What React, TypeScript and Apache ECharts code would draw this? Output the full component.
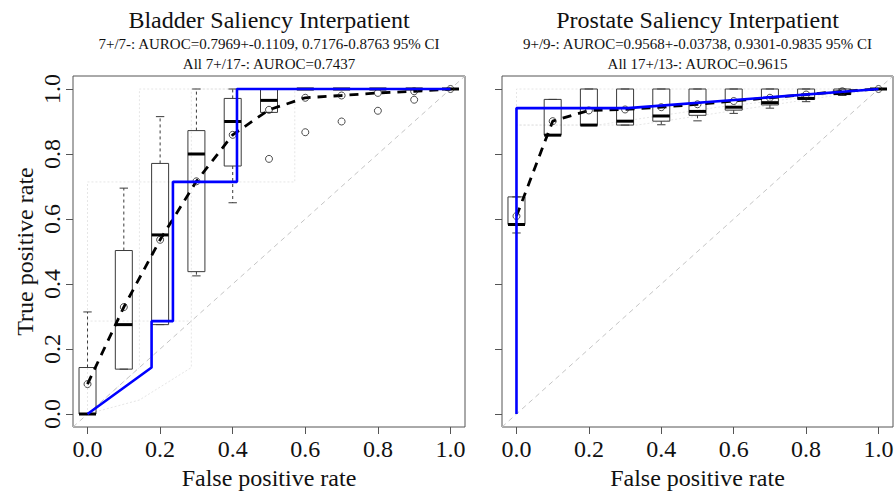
import React, { useEffect, useRef } from "react";
import * as echarts from "echarts";

// ---------- data ----------
const fprGrid = [0, 0.1, 0.2, 0.3, 0.4, 0.5, 0.6, 0.7, 0.8, 0.9, 1.0];
const tickValues = [0, 0.2, 0.4, 0.6, 0.8, 1.0];

// Bladder boxplots (per FPR)
const bladderMin = [0, 0.138, 0.275, 0.425, 0.65, 0.928, 1, 1, 1, 1, 1];
const bladderQ1 = [0, 0.138, 0.275, 0.438, 0.763, 0.928, 1, 1, 1, 1, 1];
const bladderMedian = [0, 0.275, 0.551, 0.8, 0.9, 0.965, 1, 1, 1, 1, 1];
const bladderQ3 = [0.143, 0.503, 0.771, 0.872, 0.971, 1, 1, 1, 1, 1, 1];
const bladderMax = [0.314, 0.695, 0.915, 1, 1, 1, 1, 1, 1, 1, 1];
const bladderMean = [0.092, 0.329, 0.536, 0.716, 0.859, 0.936, 0.973, 0.98, 0.988, 0.993, 1];
const bladderOutliers = [[0.5, 0.785], [0.6, 0.867], [0.7, 0.9], [0.8, 0.933], [0.9, 0.967]];
const bladderPooledRoc = [
  [0, 0], [0.1765, 0.1429], [0.1765, 0.2857], [0.2353, 0.2857],
  [0.2353, 0.7143], [0.4118, 0.7143], [0.4118, 1], [1, 1],
];
const bladderPatientRocs = [
  [[0, 0], [0, 0.714], [0.571, 0.714], [0.571, 1], [1, 1]],
  [[0, 0], [0.143, 0.143], [0.143, 1], [1, 1]],
  [[0, 0], [0, 0.286], [0.286, 0.286], [0.286, 1], [1, 1]],
  [[0, 0], [0.143, 0.043], [0.286, 0.143], [0.286, 0.286]],
];

// Prostate boxplots (per FPR)
const prostateMin = [0.557, 0.858, 0.888, 0.889, 0.89, 0.902, 0.925, 0.941, 0.961, 0.98, 1];
const prostateQ1 = [0.583, 0.858, 0.888, 0.889, 0.901, 0.919, 0.935, 0.951, 0.968, 0.983, 1];
const prostateMedian = [0.583, 0.858, 0.889, 0.901, 0.917, 0.931, 0.944, 0.958, 0.971, 0.986, 1];
const prostateQ3 = [0.668, 0.968, 1, 1, 1, 1, 1, 1, 1, 1, 1];
const prostateMax = [0.668, 0.968, 1, 1, 1, 1, 1, 1, 1, 1, 1];
const prostateMean = [0.609, 0.901, 0.934, 0.937, 0.944, 0.953, 0.963, 0.973, 0.983, 0.993, 1];
const prostateOutliers: number[][] = [];
const prostatePooledRoc = [[0, 0], [0, 0.9412], [0.3077, 0.9412], [1, 1]];
const prostatePatientRocs = [
  [[0, 0], [0, 1], [1, 1]],
  [[0, 0], [0, 0.889], [0.333, 0.889], [1, 1]],
  [[0, 0], [0, 0.889], [0.222, 0.889], [0.556, 0.944], [1, 1]],
];

const diagonal = [[-0.04, -0.04], [1.04, 1.04]];

const titles = ["Bladder Saliency Interpatient", "Prostate Saliency Interpatient"];
const subtitles1 = [
  "7+/7-: AUROC=0.7969+-0.1109, 0.7176-0.8763 95% CI",
  "9+/9-: AUROC=0.9568+-0.03738, 0.9301-0.9835 95% CI",
];
const subtitles2 = ["All 7+/17-: AUROC=0.7437", "All 17+/13-: AUROC=0.9615"];
const xTitle = "False positive rate";
const yTitle = "True positive rate";

// ---------- helpers ----------
const FONT = "'Liberation Serif', 'DejaVu Serif', serif";
const GRIDS = [
  { left: 73, top: 76, width: 392, height: 351 },
  { left: 502, top: 76, width: 391, height: 351 },
];

function boxRows(mn: number[], q1: number[], md: number[], q3: number[], mx: number[]) {
  return fprGrid.map((x, i) => [x, mn[i], q1[i], md[i], q3[i], mx[i]]);
}

const renderBox = (params: any, api: any) => {
  const x = api.value(0);
  const pMin = api.coord([x, api.value(1)]);
  const pQ1 = api.coord([x, api.value(2)]);
  const pMed = api.coord([x, api.value(3)]);
  const pQ3 = api.coord([x, api.value(4)]);
  const pMax = api.coord([x, api.value(5)]);
  const cx = pMed[0];
  const hw = 8.5;
  const cap = 4.2;
  const stroke = "#3a3a3a";
  return {
    type: "group",
    children: [
      { type: "line", shape: { x1: cx, y1: pQ3[1], x2: cx, y2: pMax[1] }, style: { stroke, lineWidth: 1, lineDash: [3, 3] } },
      { type: "line", shape: { x1: cx, y1: pQ1[1], x2: cx, y2: pMin[1] }, style: { stroke, lineWidth: 1, lineDash: [3, 3] } },
      { type: "line", shape: { x1: cx - cap, y1: pMax[1], x2: cx + cap, y2: pMax[1] }, style: { stroke, lineWidth: 1 } },
      { type: "line", shape: { x1: cx - cap, y1: pMin[1], x2: cx + cap, y2: pMin[1] }, style: { stroke, lineWidth: 1 } },
      { type: "rect", shape: { x: cx - hw, y: pQ3[1], width: hw * 2, height: pQ1[1] - pQ3[1] }, style: { fill: "none", stroke, lineWidth: 1 } },
      { type: "line", shape: { x1: cx - hw, y1: pMed[1], x2: cx + hw, y2: pMed[1] }, style: { stroke: "#000", lineWidth: 3 } },
    ],
  };
};

function panelSeries(idx: number, boxes: number[][], mean: number[], outliers: number[][], pooled: number[][], patients: number[][][]) {
  const axis = { xAxisIndex: idx, yAxisIndex: idx };
  const s: any[] = [];
  patients.forEach((p) => {
    s.push({
      type: "line", ...axis, data: p, symbol: "none", silent: true, z: 1,
      lineStyle: { color: "#e6e6e6", width: 1, type: [2, 2] },
    });
  });
  s.push({
    type: "line", ...axis, data: diagonal, symbol: "none", silent: true, z: 2,
    lineStyle: { color: "#c4c4c4", width: 1, type: [5, 4] },
  });
  s.push({
    type: "custom", ...axis, data: boxes, renderItem: renderBox, clip: false, z: 3,
    encode: { x: 0, y: [1, 2, 3, 4, 5] },
  });
  s.push({
    type: "scatter", ...axis, data: outliers, symbol: "circle", symbolSize: 7, z: 4,
    itemStyle: { color: "rgba(0,0,0,0)", borderColor: "#222", borderWidth: 1 },
  });
  s.push({
    type: "line", ...axis, data: fprGrid.map((x, i) => [x, mean[i]]), symbol: "none", z: 5,
    lineStyle: { color: "#000", width: 2.8, type: [9, 7] },
  });
  s.push({
    type: "scatter", ...axis, data: fprGrid.map((x, i) => [x, mean[i]]), symbol: "circle", symbolSize: 7, z: 6,
    itemStyle: { color: "rgba(0,0,0,0)", borderColor: "#222", borderWidth: 1 },
  });
  s.push({
    type: "line", ...axis, data: pooled, symbol: "none", z: 7,
    lineStyle: { color: "#0000ff", width: 2.6 },
  });
  return s;
}

function xAxisFor(idx: number) {
  return {
    type: "value", gridIndex: idx, min: -0.04, max: 1.04,
    axisLine: { show: false, onZero: false },
    splitLine: { show: false },
    axisTick: { show: true, customValues: tickValues, length: 7, lineStyle: { color: "#555", width: 1 } },
    axisLabel: {
      show: true, customValues: tickValues, formatter: (v: number) => v.toFixed(1),
      fontFamily: FONT, fontSize: 24, color: "#111", margin: 10,
    },
    name: xTitle, nameLocation: "middle", nameGap: 37,
    nameTextStyle: { fontFamily: FONT, fontSize: 24, color: "#111" },
  };
}

function yAxisFor(idx: number) {
  return {
    type: "value", gridIndex: idx, min: -0.04, max: 1.04,
    axisLine: { show: false, onZero: false },
    splitLine: { show: false },
    axisTick: { show: true, customValues: tickValues, length: 7, lineStyle: { color: "#555", width: 1 } },
    axisLabel: {
      show: idx === 0, customValues: tickValues, formatter: (v: number) => v.toFixed(1),
      fontFamily: FONT, fontSize: 24, color: "#111", margin: 9, rotate: 90,
    },
    name: idx === 0 ? yTitle : "", nameLocation: "middle", nameGap: 36,
    nameTextStyle: { fontFamily: FONT, fontSize: 24, color: "#111" },
  };
}

export default function App() {
  const ref = useRef<HTMLDivElement>(null);
  useEffect(() => {
    if (!ref.current) return;
    const chart = echarts.init(ref.current, undefined, { renderer: "svg" });
    const centers = GRIDS.map((g) => g.left + g.width / 2);
    const graphic: any[] = [];
    centers.forEach((cx, i) => {
      graphic.push({ type: "text", x: cx, y: 20, style: { text: titles[i], font: `24px ${FONT}`, fill: "#111", textAlign: "center", textVerticalAlign: "middle" } });
      graphic.push({ type: "text", x: cx, y: 44, style: { text: subtitles1[i], font: `15px ${FONT}`, fill: "#111", textAlign: "center", textVerticalAlign: "middle" } });
      graphic.push({ type: "text", x: cx, y: 64, style: { text: subtitles2[i], font: `15px ${FONT}`, fill: "#111", textAlign: "center", textVerticalAlign: "middle" } });
    });
    chart.setOption({
      animation: false,
      backgroundColor: "#fff",
      grid: GRIDS.map((g) => ({ ...g, show: true, borderColor: "#555", borderWidth: 1, backgroundColor: "transparent", containLabel: false, outerBoundsMode: "none" })),
      xAxis: [xAxisFor(0), xAxisFor(1)],
      yAxis: [yAxisFor(0), yAxisFor(1)],
      graphic,
      series: [
        ...panelSeries(0, boxRows(bladderMin, bladderQ1, bladderMedian, bladderQ3, bladderMax), bladderMean, bladderOutliers, bladderPooledRoc, bladderPatientRocs),
        ...panelSeries(1, boxRows(prostateMin, prostateQ1, prostateMedian, prostateQ3, prostateMax), prostateMean, prostateOutliers, prostatePooledRoc, prostatePatientRocs),
      ],
    });
    return () => chart.dispose();
  }, []);
  return <div ref={ref} style={{ width: 896, height: 492, position: "absolute", left: 0, top: 0 }} />;
}
